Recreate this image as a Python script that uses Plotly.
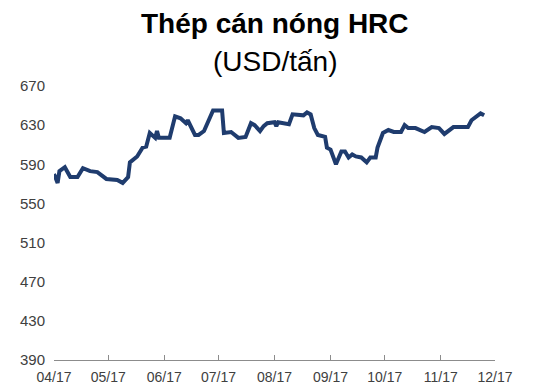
import plotly.graph_objects as go

dates = [
    "2017-04-01", "2017-04-03", "2017-04-04", "2017-04-07", "2017-04-10", "2017-04-14",
    "2017-04-17", "2017-04-21", "2017-04-25", "2017-04-30", "2017-05-06", "2017-05-09",
    "2017-05-12", "2017-05-13", "2017-05-17", "2017-05-20", "2017-05-22", "2017-05-24",
    "2017-05-27", "2017-05-28", "2017-05-29", "2017-06-04", "2017-06-07", "2017-06-10",
    "2017-06-13", "2017-06-14", "2017-06-18", "2017-06-20", "2017-06-23", "2017-06-28",
    "2017-07-03", "2017-07-04", "2017-07-08", "2017-07-12", "2017-07-16", "2017-07-19",
    "2017-07-21", "2017-07-24", "2017-07-26", "2017-07-28", "2017-08-01", "2017-08-02",
    "2017-08-03", "2017-08-07", "2017-08-09", "2017-08-11", "2017-08-16", "2017-08-17",
    "2017-08-19", "2017-08-21", "2017-08-23", "2017-08-25", "2017-08-29", "2017-08-30",
    "2017-09-01", "2017-09-04", "2017-09-07", "2017-09-09", "2017-09-11", "2017-09-13",
    "2017-09-15", "2017-09-18", "2017-09-21", "2017-09-23", "2017-09-26", "2017-09-27",
    "2017-09-30", "2017-10-03", "2017-10-06", "2017-10-10", "2017-10-12", "2017-10-14",
    "2017-10-18", "2017-10-21", "2017-10-23", "2017-10-27", "2017-10-31", "2017-11-03",
    "2017-11-08", "2017-11-16", "2017-11-18", "2017-11-23", "2017-11-25",
]
prices = [
    580, 571, 583, 587, 577, 577,
    586, 583, 582, 575, 574, 571,
    577, 592, 598, 607, 608, 622,
    617, 624, 617, 617, 639, 637,
    632, 635, 620, 620, 624, 645,
    645, 622, 623, 617, 618, 632,
    630, 624, 629, 632, 633, 629,
    633, 632, 631, 641, 641, 640,
    643, 641, 627, 620, 618, 607,
    605, 590, 603, 603, 597, 600,
    598, 597, 592, 597, 597, 607,
    622, 625, 623, 623, 630, 627,
    627, 625, 623, 628, 627, 621,
    628, 628, 635, 642, 640,
]

y_ticks = [390, 430, 470, 510, 550, 590, 630, 670]
title_main = "Thép cán nóng HRC"
title_sub = "(USD/tấn)"

fig = go.Figure()
fig.add_trace(go.Scatter(
    x=dates, y=prices, mode="lines",
    line=dict(color="#1F3C6E", width=4),
    showlegend=False, hoverinfo="skip",
))

font_family = "Liberation Sans, Arial, sans-serif"

# page body has an 8px margin; figure sized to fit the 534x385 window
fig.update_layout(
    width=526, height=377,
    margin=dict(l=46, r=39, t=78, b=25),
    paper_bgcolor="white", plot_bgcolor="white",
    font=dict(family=font_family, color="#404040"),
    xaxis=dict(
        type="date",
        range=["2017-04-01", "2017-12-01"],
        dtick="M1", tick0="2017-04-01",
        tickformat="%m/%y",
        showgrid=False, zeroline=False,
        showline=True, linecolor="#8C8C8C", linewidth=1,
        ticks="inside", ticklen=5, tickcolor="#8C8C8C",
        tickfont=dict(size=14, color="#404040"),
        ticklabelstandoff=4,
        automargin=False,
        fixedrange=True,
    ),
    yaxis=dict(
        range=[390, 670],
        tickvals=y_ticks,
        showgrid=False, zeroline=False, showline=False,
        ticks="", tickfont=dict(size=15, color="#404040"),
        ticklabelstandoff=8,
        automargin=False,
        fixedrange=True,
    ),
    annotations=[
        dict(text="<b>" + title_main + "</b>", xref="paper", yref="paper",
             x=0.5, y=1.227, xanchor="center", yanchor="middle", showarrow=False,
             font=dict(size=28, color="black", family=font_family)),
        dict(text=title_sub, xref="paper", yref="paper",
             x=0.5, y=1.088, xanchor="center", yanchor="middle", showarrow=False,
             font=dict(size=28, color="black", family=font_family)),
    ],
)

fig.write_html("out.html")
